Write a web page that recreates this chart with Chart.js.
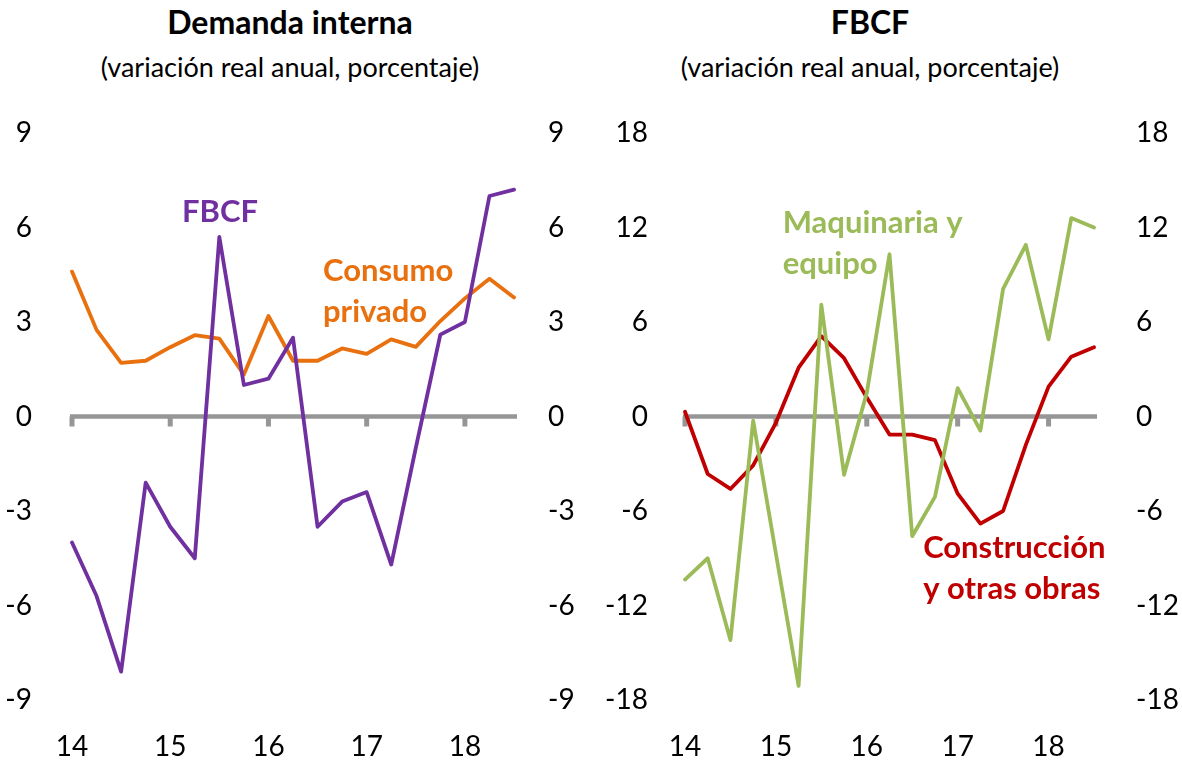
<!DOCTYPE html>
<html><head><meta charset="utf-8">
<script src="https://cdn.jsdelivr.net/npm/chart.js@4/dist/chart.umd.min.js"></script>
<style>
html,body{margin:0;padding:0;background:#fff;overflow:hidden;}
#wrap{position:relative;width:1182px;height:764px;overflow:hidden;background:#fff;}
.panel{position:absolute;top:0;width:591px;height:764px;}
canvas{display:block;}
.t{position:absolute;width:580px;text-align:center;font-family:Lato,"Open Sans",sans-serif;color:#000;white-space:nowrap;}
.t1{top:2px;font-weight:700;font-size:32px;}
.t2{top:50px;font-size:27px;}
</style></head><body>
<div id="wrap">
  <div class="t t1" style="left:0">Demanda interna</div>
  <div class="t t2" style="left:0">(variación real anual, porcentaje)</div>
  <div class="t t1" style="left:580px">FBCF</div>
  <div class="t t2" style="left:580px">(variación real anual, porcentaje)</div>
  <div class="panel" style="left:0"><canvas id="c1" width="591" height="764"></canvas></div>
  <div class="panel" style="left:591px"><canvas id="c2" width="591" height="764"></canvas></div>
</div>
<script>
// ---- data ----
const quarters = ['14T1','14T2','14T3','14T4','15T1','15T2','15T3','15T4','16T1','16T2','16T3','16T4','17T1','17T2','17T3','17T4','18T1','18T2','18T3'];
const yearLabels = ['14','15','16','17','18'];
const fbcfDemanda = [-4.0,-5.7,-8.1,-2.1,-3.5,-4.5,5.7,1.0,1.2,2.5,-3.5,-2.7,-2.4,-4.7,-1.0,2.6,3.0,7.0,7.2];
const consumoPrivado = [4.6,2.75,1.7,1.77,2.2,2.58,2.47,1.33,3.19,1.77,1.77,2.16,1.99,2.45,2.21,3.03,3.75,4.37,3.78];
const maquinaria = [-10.35,-9.0,-14.2,-0.26,-8.7,-17.1,7.1,-3.7,1.5,10.3,-7.6,-5.1,1.8,-0.9,8.1,10.9,4.9,12.6,12.0];
const construccion = [0.3,-3.65,-4.6,-3.1,-0.4,3.1,5.1,3.7,1.2,-1.15,-1.15,-1.5,-4.9,-6.8,-6.0,-1.8,1.9,3.8,4.4];
const leftTicks = [-9,-6,-3,0,3,6,9];
const rightTicks = [-18,-12,-6,0,6,12,18];

const FONT = 'Lato, "Open Sans", sans-serif';
const AXIS_GRAY = '#969696';

const zeroLinePlugin = {
  id: 'zeroLine',
  beforeDatasetsDraw(chart) {
    const {ctx, chartArea, scales} = chart;
    const y0 = scales.y.getPixelForValue(0);
    ctx.save();
    ctx.strokeStyle = AXIS_GRAY;
    ctx.lineWidth = 4.5;
    ctx.beginPath();
    ctx.moveTo(chartArea.left - 2, y0);
    ctx.lineTo(chartArea.right + 3, y0);
    ctx.stroke();
    ctx.lineWidth = 5;
    for (let i = 0; i < quarters.length; i += 4) {
      const x = scales.x.getPixelForValue(i);
      ctx.beginPath();
      ctx.moveTo(x, y0);
      ctx.lineTo(x, y0 + 10);
      ctx.stroke();
    }
    ctx.restore();
  }
};

const notesPlugin = {
  id: 'notes',
  afterDatasetsDraw(chart, args, opts) {
    const {ctx, scales} = chart;
    ctx.save();
    ctx.font = 'bold 31px ' + FONT;
    ctx.textBaseline = 'alphabetic';
    (opts.items || []).forEach(n => {
      ctx.fillStyle = n.color;
      ctx.textAlign = n.align;
      const x = scales.x.getPixelForValue(n.x);
      const y = scales.y.getPixelForValue(n.y);
      n.lines.forEach((t, k) => ctx.fillText(t, x, y + k * 41));
    });
    ctx.restore();
  }
};

function makePanel(id, datasets, ticksArr, leftW, rightW, leftPad, rightPad, notes) {
  const mn = ticksArr[0], mx = ticksArr[ticksArr.length - 1];
  const yCommon = (pos, w, pad) => ({
    position: pos, min: mn, max: mx,
    afterBuildTicks: s => { s.ticks = ticksArr.map(v => ({value: v})); },
    afterFit: s => { s.width = w; },
    grid: {display: false}, border: {display: false},
    ticks: {color: '#000', font: {family: FONT, size: 28}, padding: pad}
  });
  return new Chart(document.getElementById(id), {
    type: 'line',
    data: {labels: quarters, datasets},
    options: {
      responsive: false, animation: false,
      layout: {padding: {top: 133, bottom: 0, left: 0, right: 0}},
      plugins: {legend: {display: false}, tooltip: {enabled: false}, notes: {items: notes}},
      elements: {point: {radius: 0}, line: {tension: 0, borderWidth: 3.8, borderCapStyle: 'round', borderJoinStyle: 'round'}},
      scales: {
        x: {
          offset: false,
          grid: {display: false, drawTicks: false}, border: {display: false},
          afterFit: s => { s.height = 64; },
          ticks: {
            autoSkip: false, maxRotation: 0, minRotation: 0, padding: 30,
            color: '#000', font: {family: FONT, size: 28},
            callback: (v, i) => (i % 4 === 0 ? yearLabels[i / 4] : '')
          }
        },
        y: yCommon('left', leftW, leftPad),
        y2: yCommon('right', rightW, rightPad)
      }
    },
    plugins: [zeroLinePlugin, notesPlugin]
  });
}

makePanel('c1', [
  {data: fbcfDemanda, borderColor: '#7030A0', yAxisID: 'y'},
  {data: consumoPrivado, borderColor: '#E8700E', yAxisID: 'y'}
], leftTicks, 72, 77, 32, 26, [
  {lines: ['FBCF'], color: '#7030A0', align: 'center', x: 6.03, y: 6.18},
  {lines: ['Consumo', 'privado'], color: '#E8700E', align: 'left', x: 10.22, y: 4.30}
]);

makePanel('c2', [
  {data: maquinaria, borderColor: '#9BBB59', yAxisID: 'y'},
  {data: construccion, borderColor: '#C00000', yAxisID: 'y'}
], rightTicks, 94, 88, 29, 34, [
  {lines: ['Maquinaria y', 'equipo'], color: '#9BBB59', align: 'left', x: 4.30, y: 11.65},
  {lines: ['Construcción', 'y otras obras'], color: '#C00000', align: 'left', x: 10.48, y: -8.98}
]);
</script>
</body></html>
